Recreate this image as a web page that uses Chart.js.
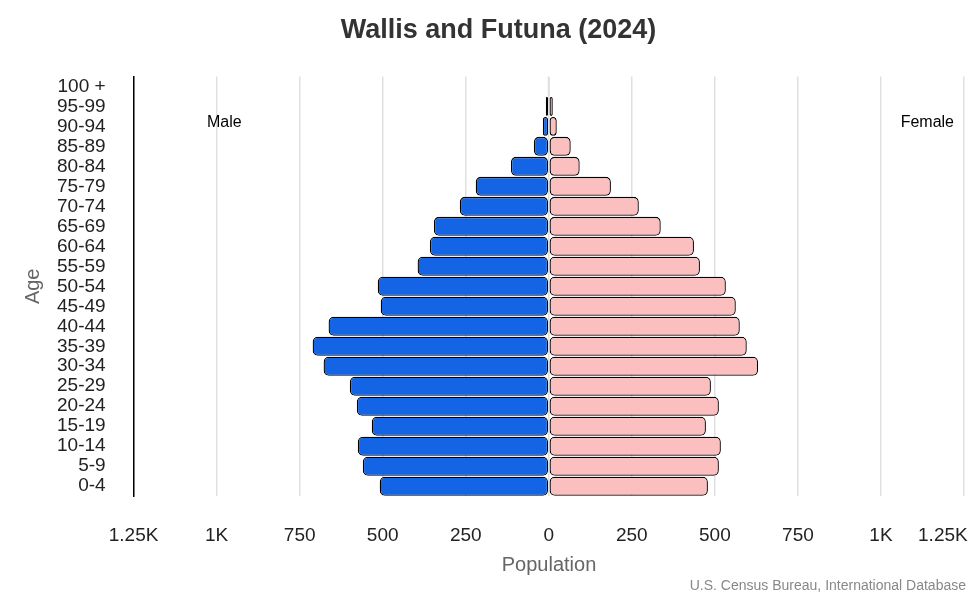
<!DOCTYPE html>
<html><head><meta charset="utf-8">
<script src="https://cdn.jsdelivr.net/npm/chart.js@4"></script>
<style>html,body{margin:0;padding:0;background:#fff}</style>
</head><body><canvas id="c" width="980" height="600"></canvas>
<script>
const ageGroups = ["100 +","95-99","90-94","85-89","80-84","75-79","70-74","65-69","60-64","55-59","50-54","45-49","40-44","35-39","30-34","25-29","20-24","15-19","10-14","5-9","0-4"];
const male = [3,9,18,45,114,220,268,346,358,395,515,506,663,711,678,599,578,533,575,560,509];
const female = [3,12,24,66,93,187,271,337,437,455,533,563,575,596,630,488,512,473,518,512,479];
const xTicks = [-1250,-1000,-750,-500,-250,0,250,500,750,1000,1250];
function fmt(v){const a=Math.abs(v);let s=a>=1000?(a/1000)+'K':String(a);if(v===1250)s=s+'\u2007\u2007\u2007\u2007';return s;}
const labelsPlugin={id:'mf',afterDraw(ch){const c=ch.ctx;c.save();c.font='16px Arial, "Liberation Sans"';c.fillStyle='#000';c.textBaseline='middle';c.textAlign='left';c.fillText('Male',207,123);c.textAlign='right';c.fillText('Female',954,123);
c.textAlign='center';c.font='20px Arial, "Liberation Sans"';c.fillStyle='#666';c.fillText('Population',549,565);
c.font='14px Arial, "Liberation Sans"';c.fillStyle='#888';c.textAlign='right';c.fillText('U.S. Census Bureau, International Database',966,586);c.restore();}};
new Chart(document.getElementById('c'),{type:'bar',
data:{labels:ageGroups,datasets:[
{label:'Male',data:male.map(v=>-v),backgroundColor:'#1464e6',borderColor:'#000',borderWidth:1.3,borderRadius:5,borderSkipped:false,barPercentage:0.95,categoryPercentage:1},
{label:'Female',data:female,backgroundColor:'#fbbfbf',borderColor:'#000',borderWidth:1.3,borderRadius:5,borderSkipped:false,barPercentage:0.95,categoryPercentage:1}]},
options:{indexAxis:'y',responsive:false,animation:false,devicePixelRatio:1,
layout:{padding:{left:17,right:0,top:0,bottom:25}},
plugins:{legend:{display:false},tooltip:{enabled:false},
title:{display:true,text:'Wallis and Futuna (2024)',color:'#333',font:{size:27,weight:'bold',family:'Arial, "Liberation Sans"'},padding:{top:14,bottom:30}}},
scales:{
x:{stacked:true,min:-1250,max:1250,afterBuildTicks(ax){ax.ticks=xTicks.map(v=>({value:v}));},
afterFit(s){s.paddingRight=16;s.paddingLeft=0;},
ticks:{callback:v=>fmt(v),color:'#222',font:{size:19,family:'Arial, "Liberation Sans"'},padding:28,maxRotation:0,autoSkip:false},
grid:{color:'#e0e0e0',lineWidth:1.5,drawTicks:false},border:{display:false}},
y:{stacked:true,ticks:{color:'#222',font:{size:19,family:'Arial, "Liberation Sans"'},padding:20,autoSkip:false},
afterFit(s){s.width=s.width-12;},
grid:{display:false},border:{display:true,color:'#000',width:1.5},
title:{display:true,text:'Age',color:'#666',font:{size:20,family:'Arial, "Liberation Sans"'},padding:{bottom:4}}}}},
plugins:[labelsPlugin]});
</script></body></html>
